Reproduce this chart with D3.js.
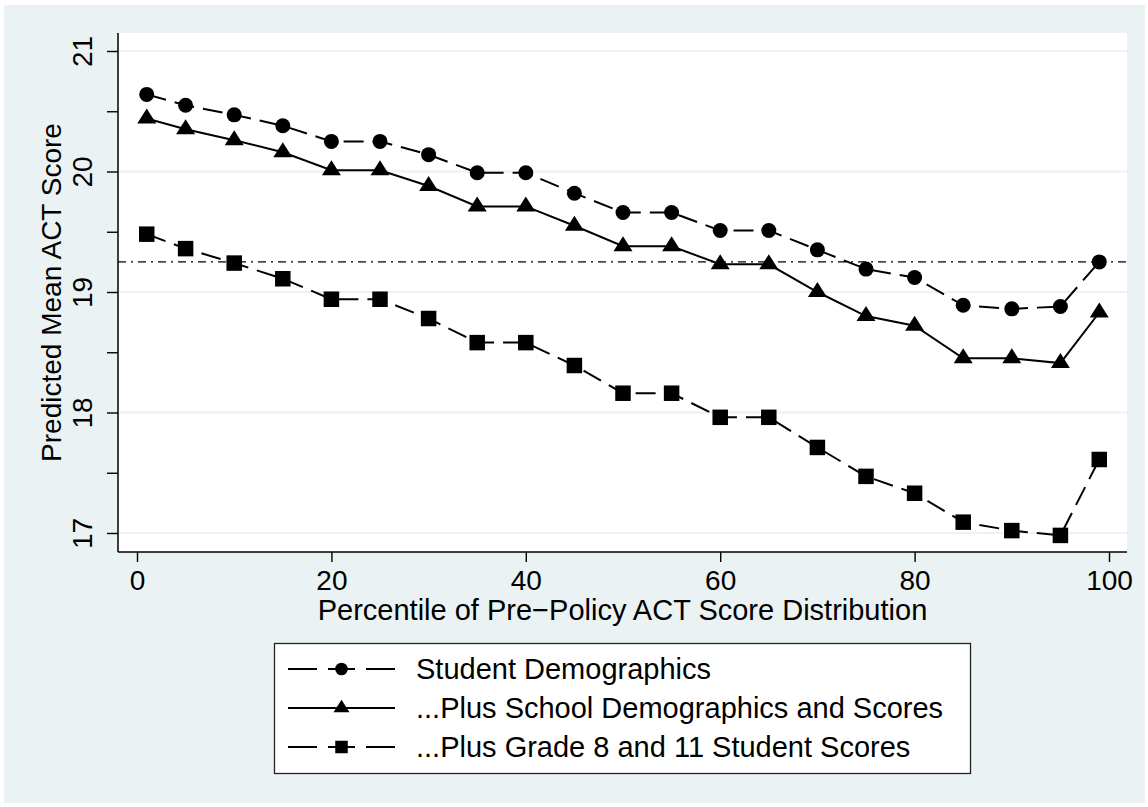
<!DOCTYPE html>
<html>
<head>
<meta charset="utf-8">
<script src="https://cdn.jsdelivr.net/npm/d3@7"></script>
<style>
  html, body { margin: 0; padding: 0; background: #ffffff; }
  svg { display: block; font-family: "Liberation Sans", Arial, Helvetica, sans-serif; }
</style>
</head>
<body>
<svg id="chart" width="1148" height="807"></svg>
<script>
// Percentile points of the pre-policy ACT score distribution
const percentiles = [1, 5, 10, 15, 20, 25, 30, 35, 40, 45, 50, 55, 60, 65, 70, 75, 80, 85, 90, 95, 99];

// Predicted mean ACT score under each model specification
const studentDemographics = [20.64, 20.55, 20.47, 20.38, 20.25, 20.25, 20.14, 19.99, 19.99, 19.82, 19.66,
                             19.66, 19.51, 19.51, 19.35, 19.19, 19.12, 18.89, 18.86, 18.88, 19.25];
const plusSchool = [20.44, 20.35, 20.26, 20.16, 20.01, 20.01, 19.88, 19.71, 19.71, 19.55, 19.38,
                    19.38, 19.23, 19.23, 19.00, 18.80, 18.72, 18.45, 18.45, 18.41, 18.83];
const plusGradeScores = [19.48, 19.36, 19.24, 19.11, 18.94, 18.94, 18.78, 18.58, 18.58, 18.39, 18.16,
                         18.16, 17.96, 17.96, 17.71, 17.47, 17.33, 17.09, 17.02, 16.98, 17.61];

const seriesNames = ["Student Demographics", "...Plus School Demographics and Scores", "...Plus Grade 8 and 11 Student Scores"];

// Reference level (horizontal dash-dot line)
const referenceLevel = 19.25;

// Axis ticks
const xTicks = [0, 20, 40, 60, 80, 100];
const yTicks = [17, 17.5, 18, 18.5, 19, 19.5, 20, 20.5, 21];

// Wide triangle marker, centred on its centroid
function triangle(w, h) {
  return `M0,${-2 * h / 3}L${w / 2},${h / 3}L${-w / 2},${h / 3}Z`;
}
const circle = r => d3.symbol().type(d3.symbolCircle).size(Math.PI * r * r)();
const square = s => d3.symbol().type(d3.symbolSquare).size(s * s)();

const series = [
  { name: seriesNames[0], values: studentDemographics, marker: circle(7.5), legendMarker: circle(6.3),
    dash: "20,9", legendDash: "29,11,27,11,29" },
  { name: seriesNames[1], values: plusSchool, marker: triangle(19, 15), legendMarker: triangle(16, 12.5),
    dash: null, legendDash: null },
  { name: seriesNames[2], values: plusGradeScores, marker: square(15.5), legendMarker: square(12.5),
    dash: "20,9", legendDash: "29,11,27,11,29" }
];

const svg = d3.select("#chart");
const bg = "#eaf2f3";

// Outer graph region
svg.append("rect").attr("x", 0).attr("y", 0).attr("width", 1148).attr("height", 807).attr("fill", "#ffffff");
svg.append("rect").attr("x", 4).attr("y", 5).attr("width", 1141).attr("height", 798).attr("fill", bg);

// Plot region
const plot = { left: 118, right: 1127, top: 33, bottom: 552 };
svg.append("rect")
  .attr("x", plot.left).attr("y", plot.top)
  .attr("width", plot.right - plot.left).attr("height", plot.bottom - plot.top)
  .attr("fill", "#ffffff");

const x = d3.scaleLinear().domain([0, 100]).range([137, 1109]);
const y = d3.scaleLinear().domain([17, 21]).range([533, 51]);

// Horizontal grid lines at labelled values
svg.append("g").selectAll("line")
  .data(yTicks.filter(Number.isInteger))
  .join("line")
  .attr("x1", plot.left).attr("x2", plot.right)
  .attr("y1", d => y(d)).attr("y2", d => y(d))
  .attr("stroke", bg).attr("stroke-width", 2);

// Y axis
const yAxis = svg.append("g")
  .attr("transform", `translate(${plot.left},0)`)
  .call(d3.axisLeft(y).tickValues(yTicks).tickSize(11).tickSizeOuter(0)
    .tickFormat(d => Number.isInteger(d) ? d : ""));
yAxis.select(".domain").remove();
yAxis.selectAll(".tick line").attr("stroke", "#000").attr("stroke-width", 1.4);
yAxis.selectAll(".tick text")
  .attr("transform", "rotate(-90)")
  .attr("x", 0).attr("y", -26).attr("dy", 0)
  .attr("text-anchor", "middle")
  .attr("fill", "#000")
  .style("font-size", "28px");
svg.append("line")
  .attr("x1", plot.left).attr("x2", plot.left)
  .attr("y1", plot.top).attr("y2", plot.bottom)
  .attr("stroke", "#000").attr("stroke-width", 1.5);

// X axis
const xAxis = svg.append("g")
  .attr("transform", `translate(0,${plot.bottom})`)
  .call(d3.axisBottom(x).tickValues(xTicks).tickSize(10).tickSizeOuter(0));
xAxis.select(".domain").remove();
xAxis.selectAll(".tick line").attr("stroke", "#000").attr("stroke-width", 1.4);
xAxis.selectAll(".tick text")
  .attr("y", 38).attr("dy", 0)
  .attr("fill", "#000")
  .style("font-size", "28px");
svg.append("line")
  .attr("x1", plot.left).attr("x2", plot.right)
  .attr("y1", plot.bottom).attr("y2", plot.bottom)
  .attr("stroke", "#000").attr("stroke-width", 1.5);

// Axis titles
svg.append("text")
  .attr("x", (plot.left + plot.right) / 2).attr("y", 620)
  .attr("text-anchor", "middle")
  .style("font-size", "29px")
  .text("Percentile of Pre\u2212Policy ACT Score Distribution");

svg.append("text")
  .attr("transform", `translate(61,${(plot.top + plot.bottom) / 2}) rotate(-90)`)
  .attr("text-anchor", "middle")
  .style("font-size", "28px")
  .text("Predicted Mean ACT Score");

// Reference line
svg.append("line")
  .attr("x1", plot.left).attr("x2", plot.right)
  .attr("y1", y(referenceLevel)).attr("y2", y(referenceLevel))
  .attr("stroke", "#000").attr("stroke-width", 1.2)
  .attr("stroke-dasharray", "8,5,2,5");

// Series lines
const line = d3.line().x((d, i) => x(percentiles[i])).y(d => y(d));
series.forEach(s => {
  svg.append("path")
    .datum(s.values)
    .attr("d", line)
    .attr("fill", "none")
    .attr("stroke", "#000")
    .attr("stroke-width", 2)
    .attr("stroke-dasharray", s.dash);
});

// Series markers
series.forEach(s => {
  svg.append("g").selectAll("path")
    .data(s.values)
    .join("path")
    .attr("transform", (d, i) => `translate(${x(percentiles[i])},${y(d)})`)
    .attr("d", s.marker)
    .attr("fill", "#000");
});

// Legend
const legend = svg.append("g");
legend.append("rect")
  .attr("x", 274.5).attr("y", 643.5)
  .attr("width", 696).attr("height", 130)
  .attr("fill", "#ffffff")
  .attr("stroke", "#222").attr("stroke-width", 1.3);

const rowY = [669, 708, 747];
series.forEach((s, i) => {
  const g = legend.append("g").attr("transform", `translate(0,${rowY[i]})`);
  g.append("line")
    .attr("x1", 288).attr("x2", 395).attr("y1", 0).attr("y2", 0)
    .attr("stroke", "#000").attr("stroke-width", 2)
    .attr("stroke-dasharray", s.legendDash);
  g.append("path")
    .attr("transform", "translate(341.5,0)")
    .attr("d", s.legendMarker)
    .attr("fill", "#000");
  g.append("text")
    .attr("x", 416).attr("y", 10)
    .style("font-size", "29px")
    .text(s.name);
});
</script>
</body>
</html>
